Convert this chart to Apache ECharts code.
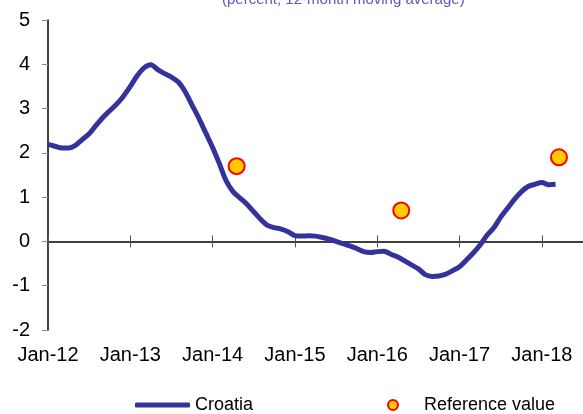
<!DOCTYPE html>
<html>
<head>
<meta charset="utf-8">
<script src="https://cdn.jsdelivr.net/npm/echarts@6/dist/echarts.min.js"></script>
<style>
  html, body { margin: 0; padding: 0; background: #fff; }
  #chart { width: 583px; height: 414px; }
</style>
</head>
<body>
<div id="chart"></div>
<script>
// months counted from Jan-12
let yearTicks = [0, 12, 24, 36, 48, 60, 72];
let yearLabels = ['Jan-12', 'Jan-13', 'Jan-14', 'Jan-15', 'Jan-16', 'Jan-17', 'Jan-18'];

// Croatia, 12-month moving average inflation, Jan-12 .. Mar-18
let croatiaValues = [
    2.19, 2.15, 2.11, 2.11, 2.17, 2.30, 2.43, 2.62, 2.80, 2.95, 3.10, 3.28,
    3.50, 3.74, 3.92, 3.99, 3.88, 3.79, 3.71, 3.60, 3.38, 3.08, 2.78, 2.45,
    2.12, 1.75, 1.36, 1.12, 0.98, 0.84, 0.67, 0.50, 0.36, 0.31, 0.28, 0.22,
    0.13, 0.12, 0.13, 0.12, 0.09, 0.05, 0.00, -0.05, -0.10, -0.16, -0.23, -0.25,
    -0.23, -0.22, -0.29, -0.35, -0.44, -0.53, -0.62, -0.75, -0.79, -0.78, -0.74, -0.66,
    -0.57, -0.42, -0.26, -0.08, 0.14, 0.31, 0.55, 0.75, 0.95, 1.12, 1.24, 1.29,
    1.33, 1.28, 1.29
];

let refMonths = [27.5, 51.5, 74.5];
let refValues = [1.70, 0.70, 1.90];

let font = 'Liberation Sans, Arial, sans-serif';

let lineData = croatiaValues.map((v, i) => [i, v]);
let refData = refMonths.map((m, i) => [m, refValues[i]]);

let labelFor = v => {
    let idx = yearTicks.indexOf(v);
    return idx >= 0 ? yearLabels[idx] : '';
};

let baseX = {
    type: 'value',
    min: 0,
    max: 78,
    interval: 6,
    splitLine: { show: false }
};

let option = {
    animation: false,
    backgroundColor: '#fff',
    title: {
        text: '(percent, 12-month moving average)',
        left: 222,
        top: -8,
        padding: 0,
        textStyle: { fontFamily: font, fontSize: 15, fontWeight: 'normal', color: '#5a5ac0' }
    },
    grid: { left: 48, right: -5, top: 20, bottom: 84, containLabel: false },
    legend: [
        {
            data: ['Croatia'],
            left: 135,
            top: 396,
            padding: 0,
            icon: 'roundRect',
            itemWidth: 55,
            itemHeight: 5,
            textStyle: { fontFamily: font, fontSize: 18, color: '#000' }
        },
        {
            data: ['Reference value'],
            left: 387,
            top: 396,
            padding: 0,
            icon: 'circle',
            itemWidth: 10,
            itemHeight: 10,
            textStyle: { fontFamily: font, fontSize: 18, color: '#000', padding: [0, 0, 0, 21] }
        }
    ],
    xAxis: [
        Object.assign({}, baseX, {
            position: 'bottom',
            axisLine: { onZero: true, onZeroAxisIndex: 0, lineStyle: { color: '#000', width: 1.5 } },
            axisTick: { show: true, length: 6, customValues: yearTicks, lineStyle: { color: '#555', width: 1 } },
            axisLabel: { show: false }
        }),
        Object.assign({}, baseX, {
            position: 'top',
            axisLine: { show: false, onZero: true, onZeroAxisIndex: 0 },
            axisTick: { show: true, length: 6, customValues: yearTicks, lineStyle: { color: '#555', width: 1 } },
            axisLabel: { show: false }
        }),
        Object.assign({}, baseX, {
            position: 'bottom',
            axisLine: { show: false, onZero: false },
            axisTick: { show: false },
            axisLabel: {
                show: true,
                margin: 15,
                customValues: yearTicks,
                formatter: labelFor,
                fontFamily: font,
                fontSize: 20,
                color: '#000'
            }
        })
    ],
    yAxis: {
        type: 'value',
        min: -2,
        max: 5,
        interval: 1,
        axisLine: { show: true, onZero: false, lineStyle: { color: '#000', width: 1.5 } },
        axisTick: { show: true, length: 6, lineStyle: { color: '#888' } },
        axisLabel: { margin: 18, fontFamily: font, fontSize: 20, color: '#000' },
        splitLine: { show: false }
    },
    series: [
        {
            name: 'Croatia',
            type: 'line',
            data: lineData,
            smooth: 0.3,
            showSymbol: false,
            symbol: 'none',
            lineStyle: { color: '#333399', width: 5 },
            itemStyle: { color: '#333399' },
            z: 3
        },
        {
            name: 'Reference value',
            type: 'scatter',
            data: refData,
            symbol: 'circle',
            symbolSize: 16,
            itemStyle: { color: '#FFCC00', borderColor: '#FF0000', borderWidth: 2, opacity: 1 },
            z: 4
        }
    ]
};

let myChart = echarts.init(document.getElementById('chart'), null, { renderer: 'canvas' });
myChart.setOption(option);
</script>
</body>
</html>
